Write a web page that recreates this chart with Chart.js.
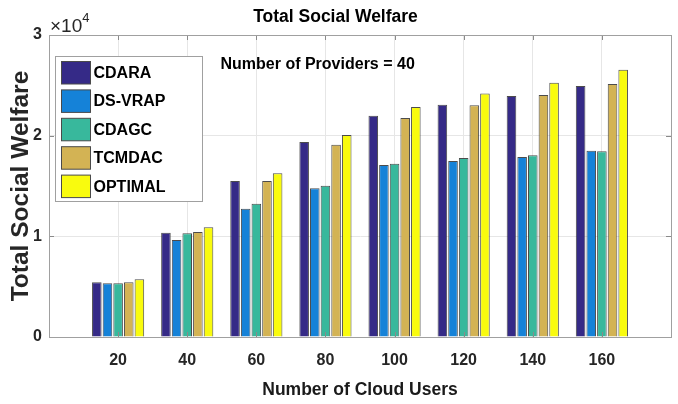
<!DOCTYPE html>
<html>
<head>
<meta charset="utf-8">
<script src="https://cdn.jsdelivr.net/npm/chart.js@4.4.1/dist/chart.umd.min.js"></script>
<style>
  html, body { margin: 0; padding: 0; background: #ffffff; }
  canvas { display: block; }
</style>
</head>
<body>
<canvas id="c" width="678" height="404"></canvas>
<script>
// ---- data ----
const categories = [20, 40, 60, 80, 100, 120, 140, 160];
const seriesNames = ['CDARA', 'DS-VRAP', 'CDAGC', 'TCMDAC', 'OPTIMAL'];
const cdara   = [5430, 10360, 15500, 19370, 21980, 23080, 23940, 24930];
const dsvrap  = [5330,  9630, 12750, 14770, 17080, 17480, 17880, 18510];
const cdagc   = [5330, 10300, 13240, 15030, 17220, 17780, 18050, 18440];
const tcmdac  = [5430, 10430, 15500, 19100, 21750, 23010, 24040, 25130];
const optimal = [5730, 10890, 16260, 20060, 22850, 24200, 25260, 26550];
const yTicks = [0, 10000, 20000, 30000];
const chartTitle = 'Total Social Welfare';
const xTitle = 'Number of Cloud Users';
const yTitle = 'Total Social Welfare';
const annotation = 'Number of Providers = 40';

const colors = ['#352a87', '#1582d8', '#38b89c', '#d3b354', '#f9fb0e'];
const REG = "'Liberation Sans', Arial, sans-serif";

// x axis spans 0..180 : pad categories with empty edge slots
const labels = ['0', ...categories.map(String), '180'];
const pad = arr => [null, ...arr, null];
const allSeries = [cdara, dsvrap, cdagc, tcmdac, optimal];

const datasets = allSeries.map((arr, i) => ({
  label: seriesNames[i],
  data: pad(arr),
  backgroundColor: colors[i],
  borderColor: 'rgba(45,45,45,0.85)',
  borderWidth: 1,
  categoryPercentage: 0.77,
  barPercentage: 0.9
}));

const overlay = {
  id: 'overlay',
  afterDatasetsDraw(chart) {
    const {ctx, chartArea: a, scales: {x, y}} = chart;
    ctx.save();
    // inward tick marks on all four sides
    ctx.strokeStyle = '#8a8a8a';
    ctx.lineWidth = 1;
    const tl = 5;
    ctx.beginPath();
    categories.forEach((c, i) => {
      const px = Math.round(x.getPixelForValue(i + 1)) + 0.5;
      ctx.moveTo(px, a.bottom); ctx.lineTo(px, a.bottom - tl);
      ctx.moveTo(px, a.top); ctx.lineTo(px, a.top + tl);
    });
    yTicks.forEach(v => {
      const py = Math.round(y.getPixelForValue(v)) + 0.5;
      ctx.moveTo(a.left, py); ctx.lineTo(a.left + tl, py);
      ctx.moveTo(a.right, py); ctx.lineTo(a.right - tl, py);
    });
    ctx.stroke();
    // axes box
    ctx.strokeStyle = '#a0a0a0';
    ctx.strokeRect(Math.round(a.left) + 0.5, Math.round(a.top) + 0.5,
                   Math.round(a.right - a.left), Math.round(a.bottom - a.top));
    ctx.restore();
  },
  afterDraw(chart) {
    const {ctx, chartArea: a} = chart;
    ctx.save();
    // exponent label
    ctx.fillStyle = '#262626';
    ctx.textBaseline = 'alphabetic';
    ctx.textAlign = 'left';
    ctx.font = '19px ' + REG;
    ctx.fillText('\u00d710', a.left + 1, 32);
    const w = ctx.measureText('\u00d710').width;
    ctx.font = '13px ' + REG;
    ctx.fillText('4', a.left + 1 + w, 22);

    // annotation
    ctx.fillStyle = '#000000';
    ctx.font = 'bold 16px ' + REG;
    ctx.textBaseline = 'middle';
    ctx.fillText(annotation, 220.5, 65);

    // legend box
    const lx = 55.5, ly = 56.5, lw = 147, lh = 145;
    ctx.fillStyle = '#ffffff';
    ctx.fillRect(lx, ly, lw, lh);
    ctx.strokeStyle = '#a0a0a0';
    ctx.lineWidth = 1;
    ctx.strokeRect(lx, ly, lw, lh);
    const pitch = 28.4;
    chart.data.datasets.forEach((ds, i) => {
      const top = 61.5 + i * pitch;
      ctx.fillStyle = ds.backgroundColor;
      ctx.fillRect(61.5, top, 29, 22.5);
      ctx.strokeStyle = '#4a4a4a';
      ctx.strokeRect(61.5, top, 29, 22.5);
      ctx.fillStyle = '#000000';
      ctx.font = 'bold 16px ' + REG;
      ctx.textBaseline = 'middle';
      ctx.textAlign = 'left';
      ctx.fillText(ds.label, 93.5, top + 12);
    });
    ctx.restore();
  }
};

new Chart(document.getElementById('c'), {
  type: 'bar',
  data: { labels, datasets },
  plugins: [overlay],
  options: {
    responsive: false,
    animation: false,
    devicePixelRatio: 1,
    layout: { padding: { left: 0, right: 7, top: 0, bottom: 0 } },
    plugins: {
      legend: { display: false },
      tooltip: { enabled: false },
      title: {
        display: true,
        text: chartTitle,
        color: '#000000',
        font: { family: REG, size: 17.5, weight: 'bold', lineHeight: 1.2 },
        padding: { top: 7, bottom: 7 }
      }
    },
    scales: {
      x: {
        type: 'category',
        offset: false,
        grid: { display: true, color: '#e6e6e6', drawTicks: true, tickLength: 14,
                tickColor: 'rgba(0,0,0,0)', offset: false },
        border: { display: true, color: '#a0a0a0' },
        ticks: {
          color: '#262626',
          padding: 0,
          maxRotation: 0,
          autoSkip: false,
          font: { family: REG, size: 16, weight: 'bold' },
          callback: (v, i) => (i === 0 || i === labels.length - 1) ? '' : labels[i]
        },
        title: {
          display: true,
          text: xTitle,
          color: '#1a1a1a',
          font: { family: REG, size: 17.5, weight: 'bold', lineHeight: 1.2 },
          padding: { top: 0, bottom: 3 }
        },
        afterFit: s => { s.height = 67; }
      },
      y: {
        min: 0,
        max: 30000,
        afterBuildTicks: s => { s.ticks = yTicks.map(v => ({ value: v })); },
        grid: { color: '#e6e6e6', drawTicks: false },
        border: { display: true, color: '#a0a0a0' },
        ticks: {
          color: '#262626',
          padding: 7,
          font: { family: REG, size: 16, weight: 'bold' },
          callback: v => String(v / 10000)
        },
        title: {
          display: true,
          text: yTitle,
          color: '#262626',
          font: { family: REG, size: 24.5, weight: 'bold', lineHeight: 1.2 },
          padding: { top: 7, bottom: 0 }
        },
        afterFit: s => { s.width = 49; }
      }
    }
  }
});
</script>
</body>
</html>
